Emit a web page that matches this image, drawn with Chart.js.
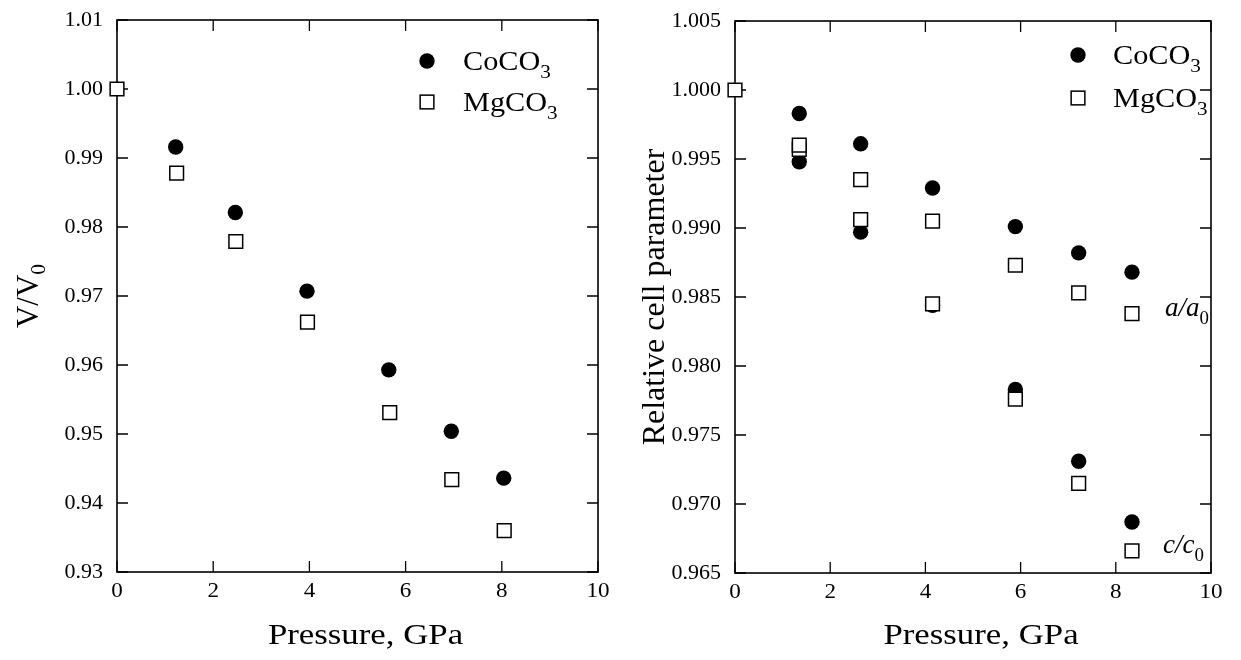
<!DOCTYPE html>
<html>
<head>
<meta charset="utf-8">
<title>Compression of CoCO3 and MgCO3</title>
<script src="https://cdn.jsdelivr.net/npm/chart.js@4.4.1/dist/chart.umd.min.js"></script>
<style>
  body { margin: 0; background: #fff; }
  #wrap { position: relative; width: 1241px; height: 660px; }
  canvas { position: absolute; top: 0; }
</style>
</head>
<body>
<div id="wrap">
  <canvas id="volChart" width="620" height="660" style="left:0"></canvas>
  <canvas id="cellChart" width="621" height="660" style="left:620px"></canvas>
</div>
<script>
// Left panel: V/V0 vs pressure
const volPressureCo = [1.22, 2.46, 3.95, 5.65, 6.95, 8.04];
const volCo = [0.9916, 0.9821, 0.9707, 0.9593, 0.9504, 0.9436];
const volPressureMg = [0, 1.24, 2.47, 3.96, 5.67, 6.96, 8.05];
const volMg = [1.000, 0.9878, 0.9779, 0.9662, 0.9531, 0.9434, 0.9360];

// Right panel: relative cell parameters vs pressure
const cellPressureCo = [1.35, 2.64, 4.15, 5.89, 7.22, 8.34];
const aCo = [0.9983, 0.9961, 0.9929, 0.9901, 0.9882, 0.9868];
const cCo = [0.9948, 0.9897, 0.9844, 0.9783, 0.9731, 0.9687];
const cellPressureMgA = [0, 1.35, 2.64, 4.15, 5.89, 7.22, 8.34];
const aMg = [1.000, 0.9960, 0.9935, 0.9905, 0.9873, 0.9853, 0.9838];
const cellPressureMgC = [1.35, 2.64, 4.15, 5.89, 7.22, 8.34];
const cMg = [0.9957, 0.9906, 0.9845, 0.9776, 0.9715, 0.9666];

// tick labels
const xTickLabels = ['0', '2', '4', '6', '8', '10'];
const volTickLabels = ['0.93', '0.94', '0.95', '0.96', '0.97', '0.98', '0.99', '1.00', '1.01'];
const cellTickLabels = ['0.965', '0.970', '0.975', '0.980', '0.985', '0.990', '0.995', '1.000', '1.005'];

const SERIF = '"Liberation Serif", "DejaVu Serif", serif';

function fontFor(p, size) {
  const s = p.sub ? size * 0.7 : size;
  return `${p.italic ? 'italic ' : ''}${s}px ${SERIF}`;
}

// draws text made of parts, some of them subscripts; sx stretches it along its own direction
function drawRich(ctx, parts, x, y, size, opts = {}) {
  const sx = opts.sx || 1;
  let w = 0;
  parts.forEach(p => { ctx.font = fontFor(p, size); w += ctx.measureText(p.t).width; });
  let cx = opts.align === 'center' ? -w / 2 : opts.align === 'right' ? -w : 0;
  ctx.save();
  ctx.translate(x, y);
  if (opts.rotate) ctx.rotate(opts.rotate);
  ctx.scale(sx, 1);
  ctx.fillStyle = '#000';
  ctx.textAlign = 'left';
  ctx.textBaseline = opts.baseline || 'alphabetic';
  parts.forEach(p => {
    ctx.font = fontFor(p, size);
    ctx.fillText(p.t, cx, p.sub ? size * 0.3 : 0);
    cx += ctx.measureText(p.t).width;
  });
  ctx.restore();
}

const CIRCLE_R = 7.7;
const SQUARE_R = 9.7; // chart.js rect side = r * sqrt(2)

function legendCircle(ctx, x, y) {
  ctx.beginPath();
  ctx.arc(x, y, CIRCLE_R, 0, Math.PI * 2);
  ctx.fillStyle = '#000';
  ctx.fill();
}
function legendSquare(ctx, x, y) {
  const h = SQUARE_R * Math.SQRT1_2;
  ctx.fillStyle = '#fff';
  ctx.strokeStyle = '#000';
  ctx.lineWidth = 1.5;
  ctx.fillRect(x - h, y - h, 2 * h, 2 * h);
  ctx.strokeRect(x - h, y - h, 2 * h, 2 * h);
}

function circleSet(label, xs, ys) {
  return {
    label, data: xs.map((x, i) => ({ x, y: ys[i] })),
    pointStyle: 'circle', pointRadius: CIRCLE_R, backgroundColor: '#000',
    borderWidth: 0, showLine: false, clip: false, order: 1
  };
}
function squareSet(label, xs, ys) {
  return {
    label, data: xs.map((x, i) => ({ x, y: ys[i] })),
    pointStyle: 'rect', pointRadius: SQUARE_R, backgroundColor: '#fff',
    borderColor: '#000', borderWidth: 1.5, showLine: false, clip: false, order: 0
  };
}

function makeChart(id, cfg) {
  const framePlugin = {
    id: 'frame',
    beforeDatasetsDraw(chart) {
      const { ctx, chartArea: a, scales: { x, y } } = chart;
      ctx.save();
      ctx.strokeStyle = '#000';
      ctx.lineWidth = 1.6;
      ctx.strokeRect(a.left, a.top, a.right - a.left, a.bottom - a.top);
      ctx.lineWidth = 1.3;
      ctx.beginPath();
      xTickLabels.forEach(t => {
        const px = x.getPixelForValue(parseFloat(t));
        ctx.moveTo(px, a.bottom); ctx.lineTo(px, a.bottom - 11);
        ctx.moveTo(px, a.top); ctx.lineTo(px, a.top + 11);
      });
      cfg.yTicks.forEach(t => {
        const py = y.getPixelForValue(parseFloat(t));
        ctx.moveTo(a.left, py); ctx.lineTo(a.left + 11, py);
        ctx.moveTo(a.right, py); ctx.lineTo(a.right - 11, py);
      });
      ctx.stroke();
      ctx.restore();

      xTickLabels.forEach(t => {
        drawRich(ctx, [{ t }], x.getPixelForValue(parseFloat(t)), a.bottom + 19, 22,
          { align: 'center', baseline: 'middle', sx: 1.05 });
      });
      cfg.yTicks.forEach(t => {
        drawRich(ctx, [{ t }], a.left - 14, y.getPixelForValue(parseFloat(t)), 22,
          { align: 'right', baseline: 'middle', sx: 1.0 });
      });

      drawRich(ctx, [{ t: 'Pressure, GPa' }], (a.left + a.right) / 2 + 8, 644, 29,
        { align: 'center', sx: 1.2 });
      drawRich(ctx, cfg.yTitle, cfg.yTitleX, (a.top + a.bottom) / 2, cfg.yTitleSize,
        { align: 'center', baseline: 'middle', rotate: -Math.PI / 2 });

      const L = cfg.legend;
      legendCircle(ctx, L.x, L.y1);
      legendSquare(ctx, L.x, L.y2);
      drawRich(ctx, [{ t: 'CoCO' }, { t: '3', sub: true }], L.tx, L.y1 + 9, 28, { sx: 1.08 });
      drawRich(ctx, [{ t: 'MgCO' }, { t: '3', sub: true }], L.tx, L.y2 + 9, 28, { sx: 1.08 });

      (cfg.notes || []).forEach(n => drawRich(ctx, n.parts, n.x, n.y, 27, {}));
    }
  };

  return new Chart(document.getElementById(id), {
    type: 'scatter',
    data: { datasets: cfg.datasets },
    options: {
      responsive: false,
      devicePixelRatio: 1,
      animation: false,
      events: [],
      layout: { padding: { top: cfg.top, right: cfg.right, left: 0, bottom: 0 } },
      plugins: { legend: { display: false }, tooltip: { enabled: false } },
      scales: {
        x: {
          type: 'linear', min: 0, max: 10,
          ticks: { display: false }, grid: { display: false }, border: { display: false },
          afterFit: s => { s.height = cfg.bottom; }
        },
        y: {
          type: 'linear', min: parseFloat(cfg.yTicks[0]), max: parseFloat(cfg.yTicks[cfg.yTicks.length - 1]),
          ticks: { display: false }, grid: { display: false }, border: { display: false },
          afterFit: s => { s.width = cfg.left; }
        }
      }
    },
    plugins: [framePlugin]
  });
}

makeChart('volChart', {
  datasets: [
    circleSet('CoCO3', volPressureCo, volCo),
    squareSet('MgCO3', volPressureMg, volMg)
  ],
  yTicks: volTickLabels,
  left: 117, right: 22, top: 20, bottom: 88,
  yTitle: [{ t: 'V/V' }, { t: '0', sub: true }],
  yTitleX: 30, yTitleSize: 31,
  legend: { x: 427, y1: 61, y2: 102, tx: 463 }
});

makeChart('cellChart', {
  datasets: [
    circleSet('CoCO3 a', cellPressureCo, aCo),
    circleSet('CoCO3 c', cellPressureCo, cCo),
    squareSet('MgCO3 a', cellPressureMgA, aMg),
    squareSet('MgCO3 c', cellPressureMgC, cMg)
  ],
  yTicks: cellTickLabels,
  left: 115, right: 30, top: 21, bottom: 87,
  yTitle: [{ t: 'Relative cell parameter' }],
  yTitleX: 36, yTitleSize: 32,
  legend: { x: 458, y1: 55, y2: 98, tx: 493 },
  notes: [
    { parts: [{ t: 'a/a', italic: true }, { t: '0', sub: true }], x: 545, y: 316 },
    { parts: [{ t: 'c/c', italic: true }, { t: '0', sub: true }], x: 543, y: 553 }
  ]
});
</script>
</body>
</html>
